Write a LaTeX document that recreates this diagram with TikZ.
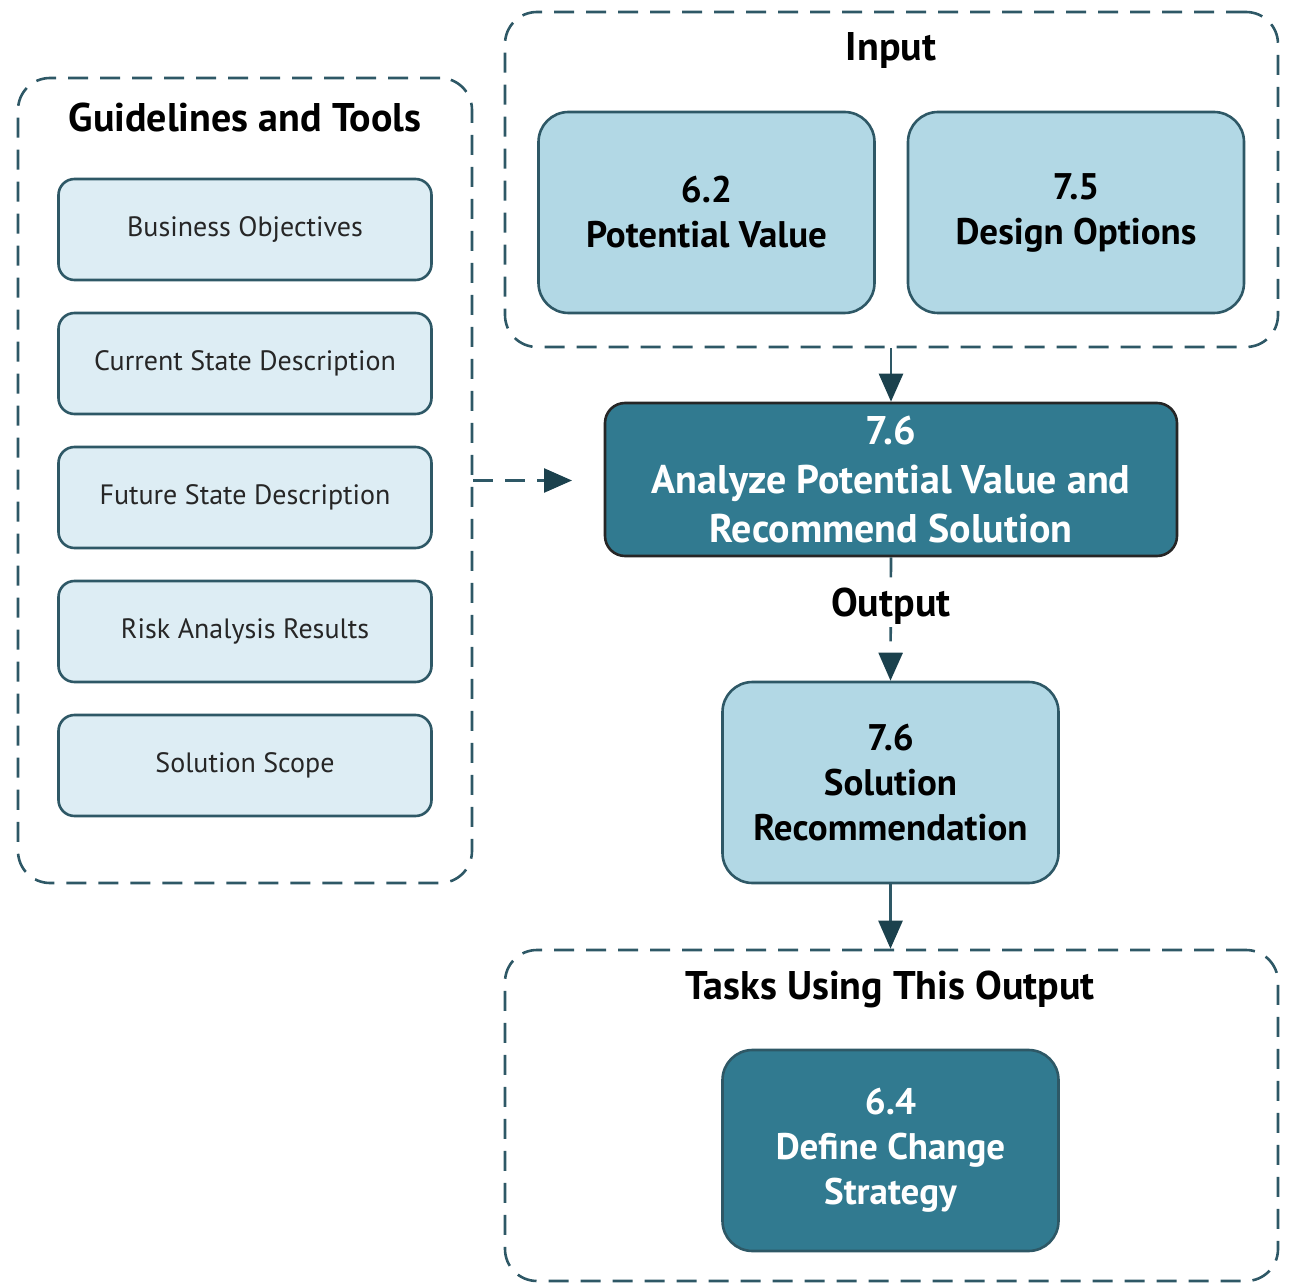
\documentclass[tikz,border=0pt]{standalone}
\usepackage{fontspec}
\setmainfont{PT Sans}
\usetikzlibrary{arrows.meta,positioning}

\definecolor{tealdark}{HTML}{317A90}
\definecolor{teallight}{HTML}{B2D8E5}
\definecolor{tealpale}{HTML}{DDEDF4}
\definecolor{tealline}{HTML}{2E5866}
\definecolor{tealtip}{HTML}{1B414D}

\begin{document}
\begin{tikzpicture}[
  x=0.5pt, y=-0.5pt,
  group/.style={draw=tealline, dash pattern=on 10pt off 6pt, line width=1.3pt, rounded corners=16pt, inner sep=0pt},
  tool/.style={draw=tealline, line width=1.3pt, fill=tealpale, rounded corners=8pt, minimum width=186.5pt, minimum height=50.5pt, text=black!85, font=\fontsize{14}{16}\selectfont},
  task/.style={draw=tealline, line width=1.3pt, fill=teallight, rounded corners=15pt, minimum width=168pt, minimum height=100.5pt, align=center, font=\bfseries\fontsize{18.5}{22.5}\selectfont},
  taskdark/.style={task, fill=tealdark, text=white},
  title/.style={font=\bfseries\fontsize{20}{24}\selectfont},
  arr/.style={-{Triangle[length=14pt,width=12pt,color=tealtip]}, draw=tealline, line width=1.3pt}
]
\useasboundingbox (0,0) rectangle (1291,1283);

% Guidelines and tools
\node[group, minimum width=227pt, minimum height=402.5pt] (guide) at (245,480.5) {};
\node[title] (guidetitle) at (245,118) {Guidelines and Tools};
\node[tool] (bo) at (245,229.5) {Business Objectives};
\node[tool, below=15.2pt of bo] (csd) {Current State Description};
\node[tool, below=15.2pt of csd] (fsd) {Future State Description};
\node[tool, below=15.2pt of fsd] (rar) {Risk Analysis Results};
\node[tool, below=15.2pt of rar] (ss) {Solution Scope};

% Input
\node[group, minimum width=386.5pt, minimum height=167.5pt] (input) at (891.5,179.5) {};
\node[title] (inputtitle) at (891,51) {Input};
\node[task] (pv) at (706.5,212.5) {6.2\\Potential Value};
\node[task] (dopt) at (1076,212.5) {7.5\\Design Options};

% Task
\node[taskdark, draw=black!85, rounded corners=10pt, inner sep=2pt, minimum width=286pt, minimum height=76.5pt, font=\bfseries\fontsize{20}{24.3}\selectfont] (main) at (891,479.5) {7.6\\Analyze Potential Value and\\Recommend Solution};

% Output
\node[task] (sol) at (890.5,782.5) {7.6\\Solution\\Recommendation};

% Tasks using this output
\node[group, minimum width=386.5pt, minimum height=165.5pt] (tasks) at (891.5,1115.5) {};
\node[title] (taskstitle) at (890,989) {Tasks Using This Output};
\node[taskdark] (dcs) at (890.5,1150.5) {6.4\\Define Change\\Strategy};

% Arrows
\coordinate (gtip) at (572,480.5);
\draw[arr, dash pattern=on 10pt off 6pt] (guide.east) -- (gtip);
\draw[arr] (input.south -| main.north) -- (main.north);
\draw[arr, dash pattern=on 10pt off 6pt] (main.south) -- node[title, fill=white, inner sep=1pt, pos=0.4] (outlbl) {Output} (sol.north);
\draw[arr] (sol.south) -- (sol.south |- tasks.north);

\end{tikzpicture}
\end{document}
